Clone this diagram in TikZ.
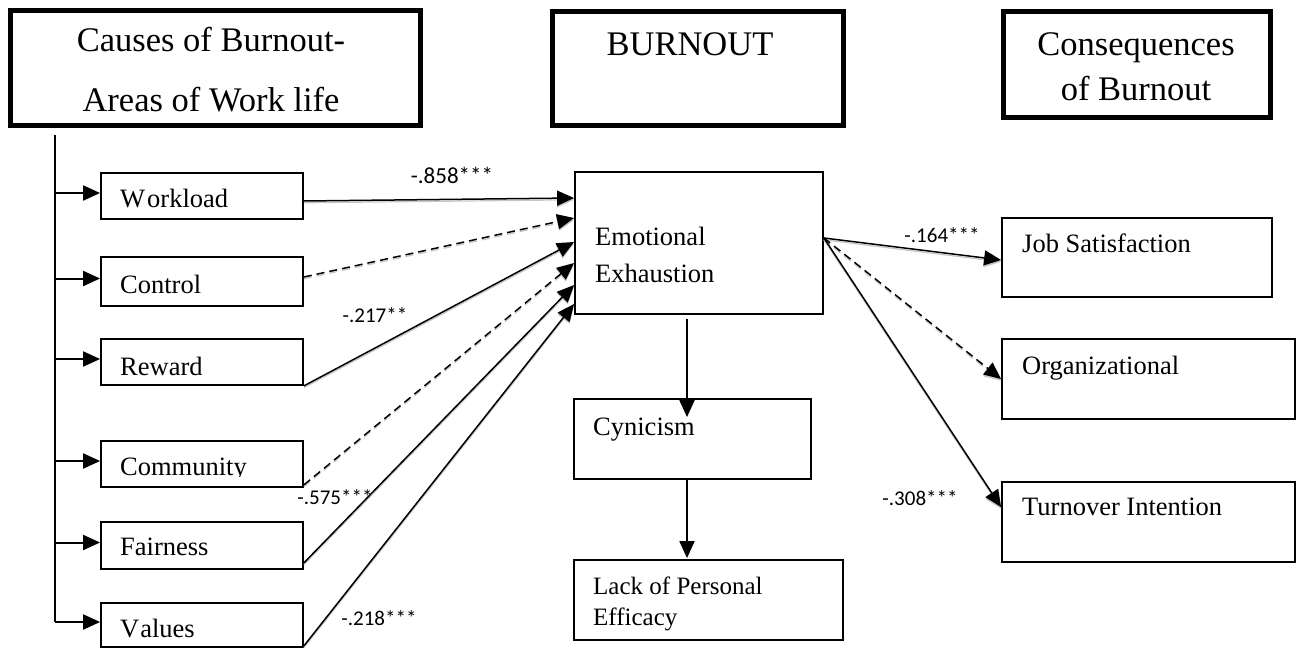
\documentclass[tikz,border=0pt]{standalone}
\usepackage{fontspec}
\setmainfont{Liberation Serif}
\newfontfamily\labfont{Carlito}
\usetikzlibrary{arrows.meta,calc}

\begin{document}
\begin{tikzpicture}[x=1pt,y=-1pt,
  titlebox/.style={draw, line width=5pt, inner sep=0pt},
  itembox/.style={draw, line width=1.8pt, inner sep=0pt},
  bigtxt/.style={font=\fontsize{34.5}{40}\selectfont, inner sep=0pt, anchor=base},
  itemtxt/.style={font=\fontsize{26.5}{30}\selectfont, inner sep=0pt, anchor=base west},
  smalltxt/.style={font=\fontsize{25}{30}\selectfont, inner sep=0pt, anchor=base west},
  coef/.style={font=\labfont\fontsize{21}{24}\selectfont, inner sep=0pt},
  tip/.style={-{Triangle[length=17pt,width=15pt]}},
  feed/.style={tip, line width=2pt},
  conn/.style={tip, line width=1.5pt},
  solidconn/.style={conn, preaction={draw=gray!45, line width=1.2pt, transform canvas={yshift=-1.8pt}}},
  dashconn/.style={conn, dash pattern=on 8pt off 5pt,
    preaction={draw=gray!45, line width=1.2pt, dash pattern=on 8pt off 5pt, transform canvas={yshift=-1.8pt}}},
]
\useasboundingbox (0,0) rectangle (1296,648);

% headings
\node[titlebox, minimum width=410pt, minimum height=115pt] (causes) at (215,67.5) {};
\node[bigtxt] (causesA) at (211,51) {Causes of Burnout-};
\node[bigtxt] (causesB) at (211,111) {Areas of Work life};

\node[titlebox, minimum width=291pt, minimum height=114pt] (burnout) at (697.5,68) {};
\node[bigtxt] (burnoutT) at (690,55) {BURNOUT};

\node[titlebox, minimum width=267pt, minimum height=106pt] (conseq) at (1136.5,64) {};
\node[bigtxt] (conseqA) at (1136,55) {Consequences};
\node[bigtxt] (conseqB) at (1136,100) {of Burnout};

% areas of work life
\node[itembox, minimum width=202pt, minimum height=46pt] (wl) at (202,196) {};
\node[itemtxt] (wlT) at (120,207) {W\kern2pt orkload};
\node[itembox, minimum width=202pt, minimum height=49pt] (ctl) at (202,281.5) {};
\node[itemtxt] (ctlT) at (120,293) {Control};
\node[itembox, minimum width=202pt, minimum height=46pt] (rew) at (202,362) {};
\node[itemtxt] (rewT) at (120,375) {Reward};
\node[itembox, minimum width=202pt, minimum height=46pt] (com) at (202,464) {};
\begin{scope}
  \clip (100,441) rectangle (304,476);
  \node[itemtxt] (comT) at (120,475) {Community};
\end{scope}
\node[itembox, minimum width=202pt, minimum height=47pt] (fair) at (202,545.5) {};
\node[itemtxt] (fairT) at (120,555) {Fairness};
\node[itembox, minimum width=202pt, minimum height=44pt] (val) at (202,625) {};
\node[itemtxt] (valT) at (120,637) {V\kern1pt alues};

% spine feeding the six areas
\coordinate (sp1) at (55,135);
\coordinate (sp2) at (55,622);
\draw[line width=2pt] (sp1) -- (sp2);
\foreach \b in {wl,ctl,rew,com,fair,val}{
  \coordinate (\b-in) at ([yshift=3pt]\b.west);
  \draw[feed] (\b-in -| sp1) -- (\b-in);
}

% burnout dimensions
\node[itembox, minimum width=248pt, minimum height=142pt] (emo) at (699,243) {};
\node[itemtxt] (emoA) at (595,245) {Emotional};
\node[itemtxt] (emoB) at (595,282) {Exhaustion};
\node[itembox, minimum width=237pt, minimum height=80pt] (cyn) at (692.5,439) {};
\node[itemtxt] (cynT) at (593,435) {Cynicism};
\node[itembox, minimum width=269pt, minimum height=80pt] (lack) at (708.5,600) {};
\node[smalltxt] (lackA) at (593,594) {Lack of Personal};
\node[smalltxt] (lackB) at (593,625) {Efficacy};

% consequences
\node[itembox, minimum width=270pt, minimum height=79pt] (job) at (1137,257.5) {};
\node[itemtxt] (jobT) at (1022,252) {Job Satisfaction};
\node[itembox, minimum width=293pt, minimum height=80pt] (org) at (1148.5,379) {};
\node[itemtxt] (orgT) at (1022,374) {Organizational};
\node[itembox, minimum width=293pt, minimum height=80pt] (turn) at (1148.5,522) {};
\node[itemtxt] (turnT) at (1022,515) {Turnover Intention};

% paths into emotional exhaustion
\draw[solidconn] ([yshift=-5pt]wl.east) -- ([yshift=45pt]emo.west);
\draw[dashconn] ([yshift=4.5pt]ctl.east) -- ([yshift=25pt]emo.west);
\draw[solidconn] (rew.south east) -- ([yshift=1pt]emo.west);
\draw[dashconn] ([yshift=3pt]com.south east) -- ([yshift=-20pt]emo.west);
\draw[solidconn] ([yshift=7pt]fair.south east) -- ([yshift=-42pt]emo.west);
\draw[solidconn] ([yshift=2pt]val.south east) -- ([yshift=-61pt]emo.west);

% paths out of emotional exhaustion
\coordinate (emo-out) at ([yshift=5pt]emo.east);
\draw[solidconn] (emo-out) -- ([yshift=-2.5pt]job.west);
\draw[dashconn] (emo-out) -- (org.west);
\draw[solidconn] (emo-out) -- ([yshift=-26pt]turn.north west);

% burnout sequence
\coordinate (vx) at (687,0);
\draw[feed, line width=1.8pt, shorten <=4pt] (vx |- emo.south) -- ($(vx |- cyn.north)+(0,19)$);
\draw[feed, line width=1.8pt] (vx |- cyn.south) -- ($(vx |- lack.north)+(0,-1)$);

% path coefficients
\node[coef, font=\labfont\fontsize{23}{26}\selectfont] (c858) at (452,175) {-.858***};
\node[coef] (c217) at (375,315) {-.217**};
\node[coef] (c575) at (335,497) {-.575***};
\node[coef] (c218) at (379,618) {-.218***};
\node[coef] (c164) at (942,235) {-.164***};
\node[coef] (c308) at (920,498) {-.308***};
\end{tikzpicture}
\end{document}
